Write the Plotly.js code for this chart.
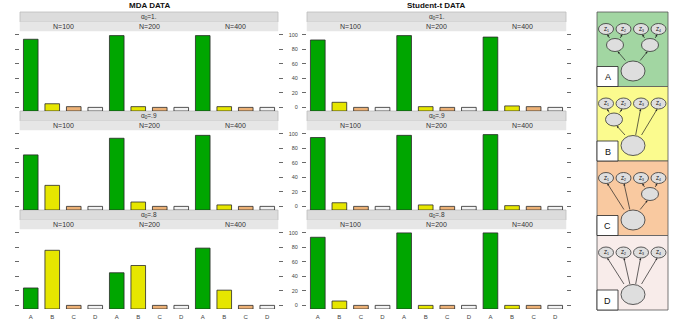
<!DOCTYPE html>
<html>
<head>
<meta charset="utf-8">
<script src="https://cdn.plot.ly/plotly-3.0.1.min.js"></script>
<style>
  html, body { margin: 0; padding: 0; background: #fff; }
  #chart { width: 679px; height: 320px; }
</style>
</head>
<body>
<div id="chart"></div>
<script>
// ---- data (percent of runs choosing each model) ----
const categories = ['A', 'B', 'C', 'D'];
const sampleSizes = ['N=100', 'N=200', 'N=400'];
const alphaLabels = ['α<sub>0</sub>=1.', 'α<sub>0</sub>=.9', 'α<sub>0</sub>=.8'];
const panelTitles = ['MDA DATA', 'Student-t DATA'];

// each row: [N=100, N=200, N=400], each cell: [A, B, C, D]
const mdaAlpha10 = [[94, 5, 1, 0], [99, 1, 0, 0], [99, 1, 0, 0]];
const mdaAlpha09 = [[71, 29, 0, 0], [94, 6, 0, 0], [98, 2, 0, 0]];
const mdaAlpha08 = [[24, 76, 0, 0], [45, 55, 0, 0], [79, 21, 0, 0]];

const stAlpha10 = [[93, 7, 0, 0], [99, 1, 0, 0], [97, 2, 1, 0]];
const stAlpha09 = [[95, 5, 0, 0], [98, 2, 0, 0], [99, 1, 0, 0]];
const stAlpha08 = [[94, 6, 0, 0], [100, 0, 0, 0], [100, 0, 0, 0]];

const modelLetters = ['A', 'B', 'C', 'D'];

// ---- styling ----
const barColors = ['#00A600', '#E6E600', '#ECB176', '#F2F2F2'];
const boxColors = ['#a2d6a2', '#fbfb8e', '#f9c9a0', '#f8ecea'];
const BASE = -5;   // lattice draws bars from the lower axis limit
const W = 679, H = 320;
const px = x => x / W;
const py = y => 1 - y / H;

const panels = [
    { left: 20, right: 278, rows: [mdaAlpha10, mdaAlpha09, mdaAlpha08] },
    { left: 307, right: 566, rows: [stAlpha10, stAlpha09, stAlpha08] }
];
const rowTop = [32, 131, 230];
const rowH = 79;

const traces = [];
const layout = {
    width: W, height: H,
    margin: { l: 0, r: 0, t: 0, b: 0 },
    paper_bgcolor: '#fff', plot_bgcolor: 'rgba(0,0,0,0)',
    showlegend: false,
    bargap: 0.32,
    font: { family: 'Liberation Sans, Arial, sans-serif', color: '#333' },
    shapes: [],
    annotations: []
};

// paper-anchored text, always centred on its point
function label(text, x, y, size, extra) {
    return Object.assign({
        text: text, xref: 'paper', yref: 'paper',
        x: px(x), y: py(y), xanchor: 'center', yanchor: 'middle',
        showarrow: false, font: { size: size, color: '#333' }
    }, extra || {});
}

let k = 0;
panels.forEach((panel, d) => {
    const colW = (panel.right - panel.left) / 3;
    const mid = (panel.left + panel.right) / 2;

    layout.annotations.push(label('<b>' + panelTitles[d] + '</b>', mid, 5.5, 8, { font: { size: 8, color: '#111' } }));

    panel.rows.forEach((row, r) => {
        const top = rowTop[r];
        // strips
        layout.shapes.push({
            type: 'rect', xref: 'paper', yref: 'paper', layer: 'below',
            x0: px(panel.left), x1: px(panel.right), y0: py(top - 10), y1: py(top - 20),
            fillcolor: '#dcdcdc', line: { color: '#bdbdbd', width: 0.8 }
        });
        layout.shapes.push({
            type: 'rect', xref: 'paper', yref: 'paper', layer: 'below',
            x0: px(panel.left), x1: px(panel.right), y0: py(top - 1), y1: py(top - 10),
            fillcolor: '#e6e6e6', line: { color: '#e6e6e6', width: 0.5 }
        });
        layout.annotations.push(label(alphaLabels[r], mid, top - 15, 6.5));

        row.forEach((vals, c) => {
            k += 1;
            const sfx = k === 1 ? '' : String(k);
            const x0 = panel.left + c * colW;

            layout.annotations.push(label(sampleSizes[c], x0 + colW / 2, top - 5.5, 7));

            traces.push({
                type: 'bar',
                x: categories,
                y: vals.map(v => v - BASE),
                base: BASE,
                xaxis: 'x' + sfx, yaxis: 'y' + sfx,
                marker: { color: barColors, line: { color: '#2a2a2a', width: 0.8 } },
                hoverinfo: 'skip'
            });

            layout['xaxis' + sfx] = {
                domain: [px(x0), px(x0 + colW)],
                anchor: 'y' + sfx,
                type: 'category', range: [-0.5, 3.5],
                showgrid: false, zeroline: false, showline: false,
                ticks: '', showticklabels: r === 2,
                ticklabelstandoff: 3,
                tickfont: { size: 6, color: '#444' },
                fixedrange: true
            };
            layout['yaxis' + sfx] = {
                domain: [py(top + rowH), py(top)],
                anchor: 'x' + sfx,
                range: [BASE, 104],
                side: c === 2 ? 'right' : 'left',
                tickvals: [0, 20, 40, 60, 80, 100],
                showgrid: false, zeroline: false, showline: false,
                ticks: c === 1 ? '' : 'outside', ticklen: 4, tickwidth: 0.8, tickcolor: '#444',
                showticklabels: d === 1 && c === 0,
                ticklabelstandoff: 3,
                tickfont: { size: 5.5, color: '#444' },
                fixedrange: true
            };
        });
    });
});

// ---- model diagram on the right, drawn on a pixel-scaled hidden axis ----
const dk = k + 1;
const dx = 'x' + dk, dy = 'y' + dk;
layout['xaxis' + dk] = { domain: [px(580), 1], range: [580, W], visible: false, fixedrange: true, anchor: dy };
layout['yaxis' + dk] = { domain: [0, 1], range: [H, 0], visible: false, fixedrange: true, anchor: dx };
traces.push({ type: 'scatter', x: [], y: [], xaxis: dx, yaxis: dy, hoverinfo: 'skip' });

const boxLeft = 597, boxRight = 668, boxH = 74.5, boxTop0 = 12;
const zX = [606, 623.5, 641, 658.5];
// hidden nodes (x centre) and which leaves each one points to, per model
const structures = [
    { mids: [{ x: 615, kids: [0, 1] }, { x: 650, kids: [2, 3] }], direct: [] },
    { mids: [{ x: 614, kids: [0, 1] }], direct: [2, 3] },
    { mids: [{ x: 650, kids: [2, 3] }], direct: [0, 1] },
    { mids: [], direct: [0, 1, 2, 3] }
];

function ellipse(cx, cy, rx, ry) {
    return {
        type: 'circle', xref: dx, yref: dy,
        x0: cx - rx, x1: cx + rx, y0: cy - ry, y1: cy + ry,
        fillcolor: '#dedede', line: { color: '#333', width: 0.8 }
    };
}
function arrow(x1, y1, x2, y2) {
    return {
        xref: dx, yref: dy, axref: dx, ayref: dy,
        x: x2, y: y2, ax: x1, ay: y1, text: '',
        showarrow: true, arrowhead: 2, arrowsize: 0.6, arrowwidth: 0.7, arrowcolor: '#222'
    };
}

structures.forEach((s, i) => {
    const T = boxTop0 + i * boxH;
    const zy = T + 17, my = T + 33, by = T + 59;
    layout.shapes.push({
        type: 'rect', xref: dx, yref: dy, layer: 'below',
        x0: boxLeft, x1: boxRight, y0: T, y1: T + boxH,
        fillcolor: boxColors[i], line: { color: '#555', width: 0.8 }
    });
    layout.shapes.push({
        type: 'rect', xref: dx, yref: dy,
        x0: boxLeft, x1: boxLeft + 21, y0: T + boxH - 20, y1: T + boxH,
        fillcolor: '#fff', line: { color: '#222', width: 0.8 }
    });
    layout.annotations.push({
        text: modelLetters[i], xref: dx, yref: dy,
        x: boxLeft + 10.5, y: T + boxH - 9.5, xanchor: 'center', yanchor: 'middle',
        showarrow: false, font: { size: 9, color: '#111' }
    });
    zX.forEach((zx, j) => {
        layout.shapes.push(ellipse(zx, zy, 7.5, 5.5));
        layout.annotations.push({
            text: 'Z<sub>' + (j + 1) + '</sub>', xref: dx, yref: dy,
            x: zx, y: zy, xanchor: 'center', yanchor: 'middle',
            showarrow: false, font: { size: 5, color: '#111' }
        });
    });
    layout.shapes.push(ellipse(633, by, 12, 10));
    s.mids.forEach(m => {
        layout.shapes.push(ellipse(m.x, my, 8.5, 6.5));
        layout.annotations.push(arrow(633 + (m.x - 633) * 0.35, by - 9, m.x + (633 - m.x) * 0.15, my + 6.5));
        m.kids.forEach(j => {
            layout.annotations.push(arrow(m.x + (zX[j] - m.x) * 0.5, my - 5.5, zX[j] + (m.x - zX[j]) * 0.15, zy + 5.5));
        });
    });
    s.direct.forEach(j => {
        layout.annotations.push(arrow(633 + (zX[j] - 633) * 0.3, by - 9, zX[j] + (633 - zX[j]) * 0.05, zy + 5.5));
    });
});

Plotly.newPlot('chart', traces, layout, { displayModeBar: false, staticPlot: true });
</script>
</body>
</html>
